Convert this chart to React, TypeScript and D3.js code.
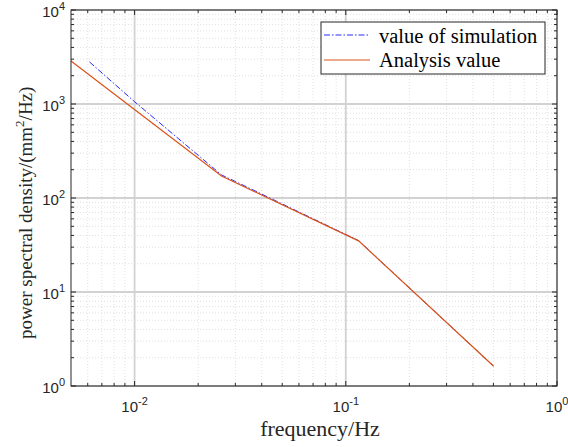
import React from "react";
import * as d3 from "d3";

const layout = {
  width: 568,
  height: 447,
  left: 71,
  right: 557,
  top: 10,
  bottom: 386
};

// analysis value (solid orange)
const analysisFreq = [0.005, 0.0258, 0.115, 0.5];
const analysisPsd = [2865, 171, 35, 1.63];

// value of simulation (dash-dot blue)
const simFreq = [0.00612, 0.01, 0.0258, 0.03, 0.115, 0.5];
const simPsd = [2800, 1057, 176, 150, 35.2, 1.63];

const xTickExps = [-2, -1, 0];
const yTickExps = [0, 1, 2, 3, 4];

const legendLabels = ["value of simulation", "Analysis value"];

const App = () => {
  const xScale = d3.scaleLog().domain([0.005, 1]).range([layout.left, layout.right]);
  const yScale = d3.scaleLog().domain([1, 10000]).range([layout.bottom, layout.top]);

  const line = d3
    .line<[number, number]>()
    .x(d => xScale(d[0]))
    .y(d => yScale(d[1]));

  const analysis = line(analysisFreq.map((f, i) => [f, analysisPsd[i]]) as [number, number][]);
  const sim = line(simFreq.map((f, i) => [f, simPsd[i]]) as [number, number][]);

  const xMinor: number[] = [];
  for (let e = -3; e < 0; e++) {
    for (let m = 2; m <= 9; m++) {
      const v = m * Math.pow(10, e);
      if (v > 0.005 && v < 1) xMinor.push(v);
    }
  }
  const yMinor: number[] = [];
  for (let e = 0; e < 4; e++) {
    for (let m = 2; m <= 9; m++) yMinor.push(m * Math.pow(10, e));
  }
  const xMajor = xTickExps.map(e => Math.pow(10, e));
  const yMajor = yTickExps.map(e => Math.pow(10, e));

  const { left, right, top, bottom } = layout;
  const tickFont = "'Liberation Sans', Arial, sans-serif";
  const labelFont = "'Liberation Serif', 'Times New Roman', serif";

  return (
    <svg width={layout.width} height={layout.height} style={{ position: "absolute", left: 0, top: 0 }}>
      <rect width={layout.width} height={layout.height} fill="#fff" />
      {/* minor grid */}
      {xMinor.map((v, i) => (
        <line key={"xm" + i} x1={xScale(v)} x2={xScale(v)} y1={top} y2={bottom}
          stroke="#e0e0e0" strokeWidth={1} strokeDasharray="1,2" />
      ))}
      {yMinor.map((v, i) => (
        <line key={"ym" + i} x1={left} x2={right} y1={yScale(v)} y2={yScale(v)}
          stroke="#e0e0e0" strokeWidth={1} strokeDasharray="1,2" />
      ))}
      {/* major grid */}
      {xMajor.map((v, i) => (
        <line key={"xM" + i} x1={xScale(v)} x2={xScale(v)} y1={top} y2={bottom}
          stroke="#d2d2d2" strokeWidth={1.8} />
      ))}
      {yMajor.map((v, i) => (
        <line key={"yM" + i} x1={left} x2={right} y1={yScale(v)} y2={yScale(v)}
          stroke="#d2d2d2" strokeWidth={1.8} />
      ))}
      {/* ticks, inside, all sides */}
      {xMinor.map((v, i) => (
        <g key={"xt" + i} stroke="#262626">
          <line x1={xScale(v)} x2={xScale(v)} y1={bottom} y2={bottom - 3} />
          <line x1={xScale(v)} x2={xScale(v)} y1={top} y2={top + 3} />
        </g>
      ))}
      {xMajor.map((v, i) => (
        <g key={"xT" + i} stroke="#262626">
          <line x1={xScale(v)} x2={xScale(v)} y1={bottom} y2={bottom - 5} />
          <line x1={xScale(v)} x2={xScale(v)} y1={top} y2={top + 5} />
        </g>
      ))}
      {yMinor.map((v, i) => (
        <g key={"yt" + i} stroke="#262626">
          <line x1={left} x2={left + 3} y1={yScale(v)} y2={yScale(v)} />
          <line x1={right} x2={right - 3} y1={yScale(v)} y2={yScale(v)} />
        </g>
      ))}
      {yMajor.map((v, i) => (
        <g key={"yT" + i} stroke="#262626">
          <line x1={left} x2={left + 5} y1={yScale(v)} y2={yScale(v)} />
          <line x1={right} x2={right - 5} y1={yScale(v)} y2={yScale(v)} />
        </g>
      ))}
      {/* data */}
      <path d={sim || ""} fill="none" stroke="#2a2aff" strokeWidth={1} strokeDasharray="6,2,1.5,2" />
      <path d={analysis || ""} fill="none" stroke="#D95319" strokeWidth={1.2} />
      {/* box */}
      <rect x={left} y={top} width={right - left} height={bottom - top} fill="none" stroke="#262626" strokeWidth={1} />
      {/* tick labels */}
      {xTickExps.map((e, i) => (
        <text key={"xl" + i} x={xScale(Math.pow(10, e))} y={412} textAnchor="middle"
          fontFamily={tickFont} fontSize={15} fill="#262626">
          10<tspan dy={-7} fontSize={11}>{e}</tspan>
        </text>
      ))}
      {yTickExps.map((e, i) => (
        <text key={"yl" + i} x={left - 6} y={yScale(Math.pow(10, e)) + 7} textAnchor="end"
          fontFamily={tickFont} fontSize={15} fill="#262626">
          10<tspan dy={-7} fontSize={11}>{e}</tspan>
        </text>
      ))}
      {/* axis labels */}
      <text x={320} y={436} textAnchor="middle" fontFamily={labelFont} fontSize={22} fill="#262626">
        frequency/Hz
      </text>
      <text transform={`translate(32,198) rotate(-90)`} x={0} y={0}
        fontFamily={labelFont} fontSize={19} fill="#262626">
        <tspan x={-141}>power spectral density/(mm</tspan>
        <tspan dy={-8} fontSize={13}>2</tspan>
        <tspan dy={8}>/Hz)</tspan>
      </text>
      {/* legend */}
      <rect x={321} y={22} width={224} height={52} fill="#fff" stroke="#262626" strokeWidth={1} />
      {legendLabels.map((lab, i) => (
        <g key={"lg" + i}>
          <line x1={324} x2={370} y1={35 + i * 25} y2={35 + i * 25}
            stroke={i === 0 ? "#2a2aff" : "#D95319"} strokeWidth={1}
            strokeDasharray={i === 0 ? "6,2,1.5,2" : undefined} />
          <text x={379} y={43 + i * 24} fontFamily={labelFont} fontSize={20.5} fill="#000">{lab}</text>
        </g>
      ))}
    </svg>
  );
};

export default App;
